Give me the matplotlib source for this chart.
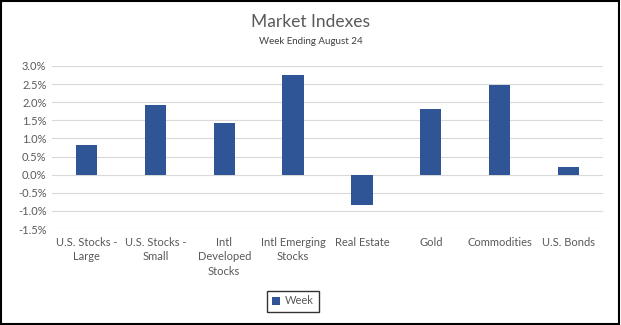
# %%
import matplotlib
matplotlib.use("Agg")
import matplotlib.pyplot as plt
from matplotlib.patches import Rectangle
from matplotlib.ticker import FuncFormatter

# %% データ
categories = ["U.S. Stocks -\nLarge", "U.S. Stocks -\nSmall", "Intl\nDeveloped\nStocks",
              "Intl Emerging\nStocks", "Real Estate", "Gold", "Commodities", "U.S. Bonds"]
week = [0.83, 1.93, 1.42, 2.74, -0.85, 1.80, 2.48, 0.20]
y_ticks = [-1.5, -1.0, -0.5, 0.0, 0.5, 1.0, 1.5, 2.0, 2.5, 3.0]

# %% 描画
plt.rcParams["font.family"] = ["Lato", "DejaVu Sans"]
txt = "#595959"

fig = plt.figure(figsize=(6.21, 3.25), dpi=100)
ax = fig.add_axes([52 / 621, 1 - 229 / 325, 551 / 621, 163 / 325])

x = range(len(categories))
ax.bar(x, week, width=0.31, color="#2F5597", zorder=3, label="Week")

ax.set_ylim(-1.5, 3.0)
ax.set_xlim(-0.5, len(categories) - 0.5)
ax.set_yticks(y_ticks)
ax.yaxis.set_major_formatter(FuncFormatter(lambda v, p: f"{v:.1f}%"))
ax.set_xticks(list(x))
ax.set_xticklabels(categories, linespacing=1.35)
ax.tick_params(axis="both", length=0, labelsize=8, colors=txt, pad=6)
ax.tick_params(axis="y", pad=4)
ax.grid(axis="y", color="#D9D9D9", linewidth=0.8, zorder=0)
for s in ax.spines.values():
    s.set_visible(False)

# タイトル
fig.text(0.5, 1 - 22 / 325, "Market Indexes", ha="center", va="center",
         fontsize=12.5, color=txt)
fig.text(0.5, 1 - 42 / 325, "Week Ending August 24", ha="center", va="center",
         fontsize=7, color="#404040")

# 凡例
leg = fig.legend(loc="center", bbox_to_anchor=(293 / 621, 1 - 301 / 325),
                 fontsize=8, frameon=True, fancybox=False, handlelength=0.7,
                 handleheight=0.7, handletextpad=0.4, borderpad=0.45)
leg.get_frame().set_edgecolor("black")
leg.get_frame().set_linewidth(1.0)
for t in leg.get_texts():
    t.set_color(txt)

# 外枠
fig.patches.append(Rectangle((0.002, 0.004), 0.995, 0.992, transform=fig.transFigure,
                             fill=False, edgecolor="black", linewidth=1.5))

fig.savefig("out.png", dpi=100)
